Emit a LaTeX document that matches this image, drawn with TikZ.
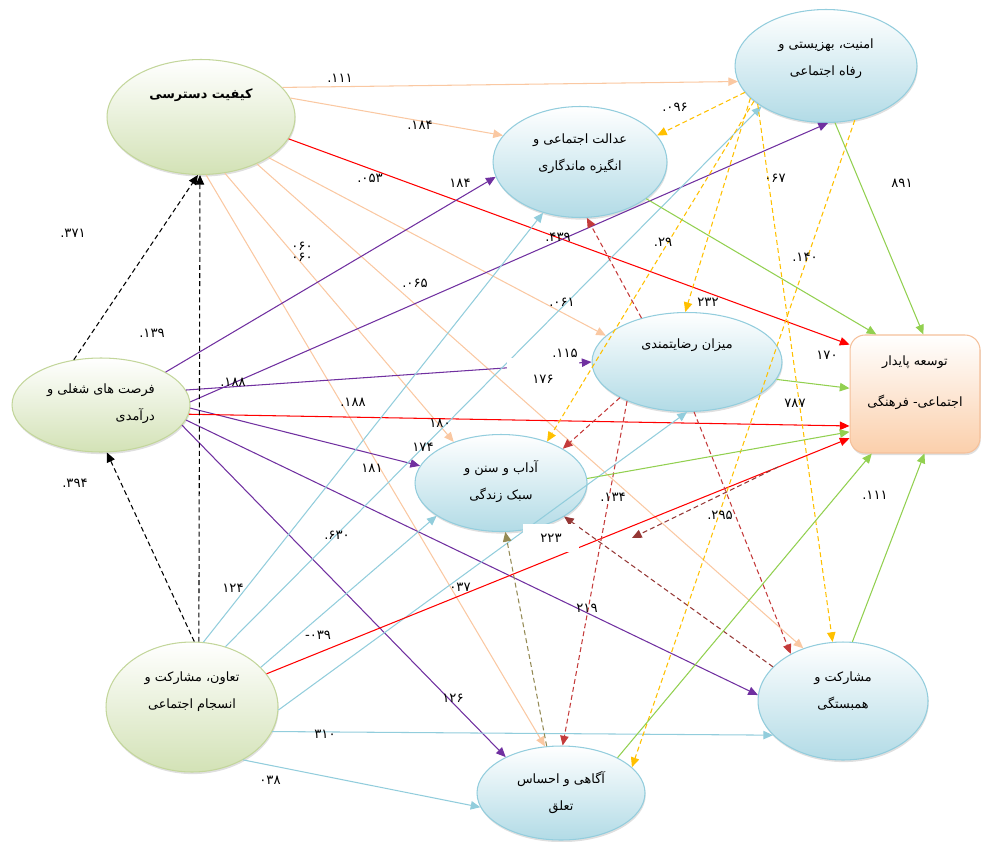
\documentclass[tikz,border=0pt]{standalone}
\usepackage{fontspec}
\usepackage{xcolor}
\usetikzlibrary{arrows.meta}
\usetikzlibrary{shapes.geometric}
\usetikzlibrary{shadows}
\newfontfamily\fafont[Script=Arabic]{DejaVu Sans}
\TeXXeTstate=1
\definecolor{grnline}{HTML}{C3D69B}
\definecolor{grnfill}{HTML}{D3E2B6}
\definecolor{blueline}{HTML}{93CDDD}
\definecolor{bluefill}{HTML}{B2DBE6}
\definecolor{toseline}{HTML}{F5C09A}
\definecolor{tosefill}{HTML}{FBCFAB}
\definecolor{peach}{HTML}{FAC8A2}
\definecolor{purp}{HTML}{7030A0}
\definecolor{lblue}{HTML}{92CDDC}
\definecolor{lgreen}{HTML}{92D050}
\definecolor{gold}{HTML}{FFC000}
\definecolor{dred}{HTML}{C43B3B}
\definecolor{brwn}{HTML}{953735}
\definecolor{khaki}{HTML}{948A54}

\begin{document}
\begin{tikzpicture}[x=0.02cm,y=-0.02cm,every node/.style={inner sep=0pt},
  greenell/.style={ellipse,draw=grnline,line width=0.6pt,top color=white,bottom color=grnfill,
    drop shadow={opacity=0.25,shadow xshift=0.4pt,shadow yshift=-1.2pt}},
  blueell/.style={ellipse,draw=blueline,line width=0.6pt,top color=white,bottom color=bluefill,
    drop shadow={opacity=0.25,shadow xshift=0.4pt,shadow yshift=-1.2pt}},
  txt/.style={font=\fafont\fontsize{7.3}{15.4}\selectfont,align=center},
  val/.style={font=\fafont\fontsize{7.5}{9}\selectfont,inner sep=1pt},
  tip/.style={-{Triangle[length=5.5pt,width=4.8pt]}},
  ekif/.style={draw=peach,line width=0.6pt,tip},
  efor/.style={draw=purp,line width=0.6pt,tip},
  etav/.style={draw=lblue,line width=0.6pt,tip},
  ered/.style={draw=red,line width=0.6pt,tip},
  egrn/.style={draw=lgreen,line width=0.6pt,tip},
  eblk/.style={draw=black,line width=0.6pt,dash pattern=on 2.8pt off 1.8pt,tip},
  eamn/.style={draw=gold,line width=0.6pt,dash pattern=on 2.8pt off 1.8pt,tip},
  erez/.style={draw=dred,line width=0.6pt,dash pattern=on 2.8pt off 1.8pt,tip},
  emos/.style={draw=brwn,line width=0.6pt,dash pattern=on 2.8pt off 1.8pt,tip},
  eaga/.style={draw=khaki,line width=0.6pt,dash pattern=on 2.8pt off 1.8pt,tip}]
\useasboundingbox (0,0) rectangle (982,841);

% factors
\draw (201,117) node[greenell,minimum width=3.76cm,minimum height=2.3cm,
        label={[txt,yshift=12.5pt]center:\textbf{\beginR کیفیت دسترسی\endR}}] (kif) {};
\draw (101,405) node[greenell,minimum width=3.56cm,minimum height=1.88cm,
        label={[txt,align=right,yshift=1pt]center:\beginR فرصت های شغلی و\endR\\\beginR درآمدی\endR}] (forsat) {};
\draw (192,707) node[greenell,minimum width=3.44cm,minimum height=2.6cm,
        label={[txt,yshift=8.5pt]center:\beginR تعاون، مشارکت و\endR\\\beginR انسجام اجتماعی\endR}] (taavon) {};

\draw (826,66) node[blueell,minimum width=3.64cm,minimum height=2.26cm,
        label={[txt,yshift=4.3pt]center:\beginR امنیت، بهزیستی و\endR\\\beginR رفاه اجتماعی\endR}] (amniat) {};
\draw (580,162) node[blueell,minimum width=3.48cm,minimum height=2.22cm,
        label={[txt,yshift=4.8pt]center:\beginR عدالت اجتماعی و\endR\\\beginR انگیزه ماندگاری\endR}] (edalat) {};
\draw (687,362) node[blueell,minimum width=3.8cm,minimum height=1.98cm,
        label={[txt,yshift=9.7pt]center:\beginR میزان رضایتمندی\endR}] (rezayat) {};
\draw (501,483) node[blueell,minimum width=3.44cm,minimum height=1.94cm,
        label={[txt,yshift=1pt]center:\beginR آداب و سنن و\endR\\\beginR سبک زندگی\endR}] (adab) {};
\draw (843,701) node[blueell,minimum width=3.4cm,minimum height=2.36cm,
        label={[txt,yshift=5.7pt]center:\beginR مشارکت و\endR\\\beginR همبستگی\endR}] (mosharekat) {};
\draw (561,793) node[blueell,minimum width=3.36cm,minimum height=1.88cm,
        label={[txt]center:\beginR آگاهی و احساس\endR\\\beginR تعلق\endR}] (agahi) {};

\draw (915,394) node[rectangle,rounded corners=0.3cm,draw=toseline,line width=0.6pt,
        top color=white,bottom color=tosefill,minimum width=2.6cm,minimum height=2.36cm,
        drop shadow={opacity=0.25,shadow xshift=0.4pt,shadow yshift=-1.2pt},
        label={[txt,yshift=6.5pt]center:\beginR توسعه پایدار\endR\\[8pt]\beginR اجتماعی- فرهنگی\endR}] (tose) {};

\coordinate (mfree) at (778,467);
\coordinate (mtip) at (632,538);

% paths from kif
\draw[ekif] (kif.20) -- (amniat.190);
\draw[ekif] (kif.12) -- (edalat.161);
\draw[ekif] (kif.-31) -- (rezayat.162);
\draw[ekif] (kif.-40) -- (mosharekat.127);
\draw[ekif] (kif.-67) -- (adab.139);
\draw[ekif] (kif.-85) -- (agahi.109);
\draw[ered] (kif.-14) -- (tose.143);

% paths from forsat
\draw[eblk] (forsat.121) -- (kif.-93);
\draw[efor] (forsat.27) -- (edalat.190);
\draw[efor] (forsat.2) -- (amniat.-88);
\draw[efor] (forsat.10) -- (rezayat.180);
\draw[efor] (forsat.-2) -- (adab.168);
\draw[efor] (forsat.-10) -- (mosharekat.176);
\draw[efor] (forsat.-14) -- (agahi.147);
\draw[ered] (forsat.-6) -- (tose.206);

% paths from taavon
\draw[eblk] (taavon.84) -- (kif.-91);
\draw[eblk] (taavon.88) -- (forsat.-83);
\draw[etav] (taavon.80) -- (edalat.234);
\draw[etav] (taavon.61) -- (amniat.212);
\draw[etav] (taavon.30) -- (adab.207);
\draw[etav] (taavon.-2) -- (rezayat.-90);
\draw[etav] (taavon.-17) -- (mosharekat.206);
\draw[etav] (taavon.-46) -- (agahi.190);
\draw[ered] (taavon.24) -- (tose.214);

% paths from amniat
\draw[eamn] (amniat.198) -- (edalat.19);
\draw[eamn] (amniat.203) -- (rezayat.92);
\draw[eamn] (amniat.206) -- (adab.42);
\draw[eamn] (amniat.209) -- (mosharekat.100);
\draw[eamn] (amniat.-62) -- (agahi.20);

% paths from rezayat
\draw[erez] (rezayat.136) -- (edalat.-83);
\draw[erez] (rezayat.208) -- (adab.29);
\draw[erez] (rezayat.213) -- (agahi.88);
\draw[erez] (rezayat.-82) -- (mosharekat.138);

% paths from mosharekat and agahi
\draw[emos] (mosharekat.154) -- (adab.-28);
\draw[emos] (mfree) -- (mtip);
\draw[eaga] (agahi.107) -- (adab.-85);

% paths to tose
\draw[egrn] (amniat.-81) -- (tose.82);
\draw[egrn] (edalat.-29) -- (tose.123);
\draw[egrn] (rezayat.-11) -- (tose.175);
\draw[egrn] (adab.3) -- (tose.210);
\draw[egrn] (agahi.32) -- (tose.234);
\draw[egrn] (mosharekat.81) -- (tose.-81);

% coefficients
\draw (73,233) node[val] (v371) {۳۷۱.};
\draw (152,333) node[val] (v139) {۱۳۹.};
\draw (75,483) node[val] (v394) {۳۹۴.};
\draw (340,78) node[val] (v111a) {۱۱۱.};
\draw (420,125) node[val] (v184a) {۱۸۴.};
\draw (370,178) node[val] (v053) {۰۵۳.};
\draw (460,183) node[val] (v184b) {۱۸۴};
\draw (302,246) node[val] (v060a) {۰۶۰};
\draw (302,257) node[val] (v060b) {۰۶۰};
\draw (558,237) node[val] (v439) {۴۳۹.};
\draw (663,242) node[val] (v029) {۲۹.};
\draw (415,283) node[val] (v065) {۰۶۵.};
\draw (562,302) node[val] (v061) {۰۶۱.};
\draw (708,302) node[val] (v232) {۲۳۲};
\draw (675,107) node[val] (v096) {۰۹۶.};
\draw (775,178) node[val] (v067) {۰۶۷};
\draw (902,183) node[val] (v891) {۸۹۱};
\draw (805,257) node[val] (v140) {۱۴۰.};
\draw (233,382) node[val] (v188a) {۱۸۸.};
\draw (565,353) node[val] (v115) {۱۱۵.};
\draw (543,383) node[val,anchor=base,fill=white,minimum width=41pt,text height=13pt] (v176) {۱۷۶};
\draw (827,355) node[val] (v170) {۱۷۰};
\draw (795,403) node[val] (v787) {۷۸۷};
\draw (353,402) node[val] (v188b) {۱۸۸.};
\draw (440,423) node[val] (v180) {۱۸۰};
\draw (423,447) node[val] (v174) {۱۷۴};
\draw (372,468) node[val] (v181) {۱۸۱};
\draw (337,535) node[val] (v630) {۶۳۰.};
\draw (233,588) node[val] (v124) {۱۲۴};
\draw (318,635) node[val] (v039) {۰۳۹-};
\draw (460,587) node[val] (v037) {۰۳۷};
\draw (453,698) node[val] (v126) {۱۲۶};
\draw (325,734) node[val] (v310) {۳۱۰};
\draw (270,780) node[val] (v038) {۰۳۸};
\draw (551,538) node[val,fill=white,minimum width=32pt,minimum height=15.4pt] (v223) {۲۲۳};
\draw (613,497) node[val] (v134) {۱۳۴.};
\draw (720,515) node[val] (v295) {۲۹۵.};
\draw (587,608) node[val] (v219) {۲۱۹};
\draw (875,495) node[val] (v111b) {۱۱۱.};

\end{tikzpicture}
\end{document}
